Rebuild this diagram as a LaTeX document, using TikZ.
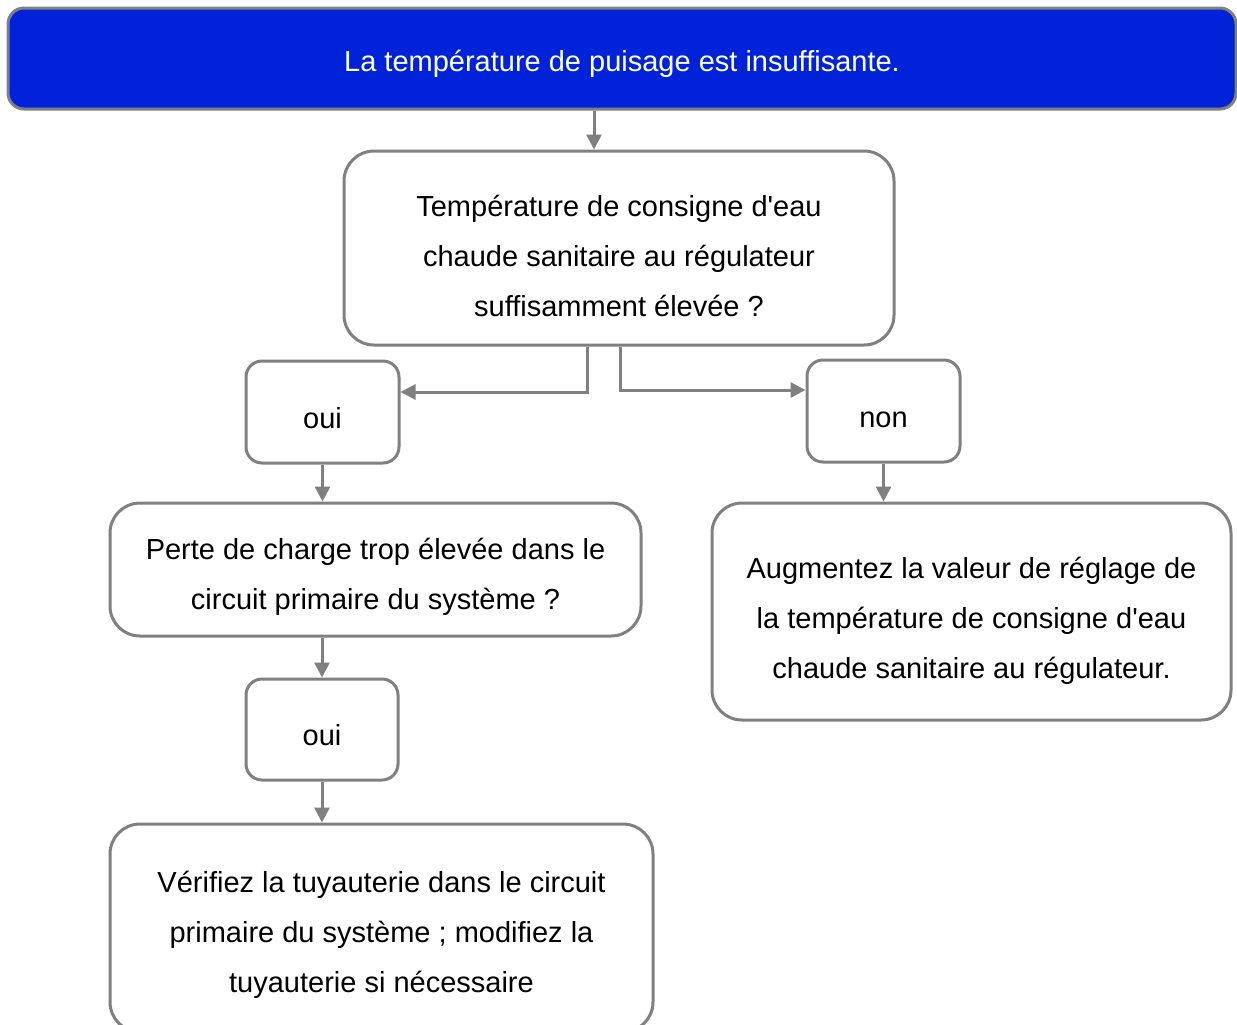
\documentclass[tikz,border=0pt]{standalone}
\usepackage{fontspec}
\setmainfont{Liberation Sans}[Ligatures=TeXOff]
\usetikzlibrary{arrows.meta,calc}
\definecolor{hdrblue}{RGB}{0,34,216}
\definecolor{linegray}{RGB}{128,128,128}
\begin{document}
\begin{tikzpicture}[x=0.5pt,y=-0.5pt,
  box/.style={draw=linegray,line width=1.5pt,rounded corners=#1,fill=white,inner sep=0pt},
  box/.default=15pt,
  txt/.style={align=center,inner sep=0pt,font=\fontsize{14.5}{25}\selectfont},
  arr/.style={draw=linegray,line width=1.5pt,-{Triangle[length=7.5pt,width=7.5pt]}}]
\useasboundingbox (0,0) rectangle (1237,1024);
\begin{scope}
\clip (0,0) rectangle (1237,1024);
% boxes
\node[box=8pt,fill=hdrblue,minimum width=614pt,minimum height=50.5pt] (top) at (622,58.5) {};
\node[box,minimum width=275pt,minimum height=97pt] (q1) at (619,248) {};
\node[box=8pt,minimum width=76.5pt,minimum height=51pt] (oui1) at (322.5,412) {};
\node[box=8pt,minimum width=76.5pt,minimum height=51pt] (non) at (883.5,411) {};
\node[box,minimum width=265.5pt,minimum height=66.5pt] (q2) at (375.5,569.5) {};
\node[box=8pt,minimum width=76pt,minimum height=50.5pt] (oui2) at (322,729.5) {};
\node[box,minimum width=271.5pt,minimum height=104pt] (v) at (381.5,928) {};
\node[box,minimum width=259.5pt,minimum height=108.5pt] (a) at (971.5,611.5) {};
% texts
\node[txt,text=white] (topt) at ([yshift=-2.5pt]top.center) {La température de puisage est insuffisante.};
\node[txt] (q1t) at ([yshift=-4.2pt]q1.center) {Température de consigne d'eau\\chaude sanitaire au régulateur\\suffisamment élevée ?};
\node[txt] (oui1t) at ([yshift=-3pt]oui1.center) {oui};
\node[txt] (nont) at ([yshift=-4.5pt]non.center) {non};
\node[txt] (q2t) at ([yshift=-3.7pt]q2.center) {Perte de charge trop élevée dans le\\circuit primaire du système ?};
\node[txt] (oui2t) at ([yshift=-3pt]oui2.center) {oui};
\node[txt] (vt) at ([yshift=-3.2pt]v.center) {Vérifiez la tuyauterie dans le circuit\\primaire du système ; modifiez la\\tuyauterie si nécessaire};
\node[txt] (at) at ([yshift=-4.7pt]a.center) {Augmentez la valeur de réglage de\\la température de consigne d'eau\\chaude sanitaire au régulateur.};
% connectors
\draw[arr] ([xshift=-14pt]top.south) -- ([xshift=-14pt]top.south |- q1.north);
\draw[arr] ([xshift=-16pt]q1.south) |- ([yshift=10pt]oui1.east);
\draw[arr] ([xshift=0.5pt]q1.south) |- ([yshift=10.5pt]non.west);
\draw[arr] (oui1.south) -- (oui1.south |- q2.north);
\draw[arr] (q2.south -| oui2.north) -- (oui2.north);
\draw[arr] (oui2.south) -- (oui2.south |- v.north);
\draw[arr] (non.south) -- (non.south |- a.north);
\end{scope}
\end{tikzpicture}
\end{document}
